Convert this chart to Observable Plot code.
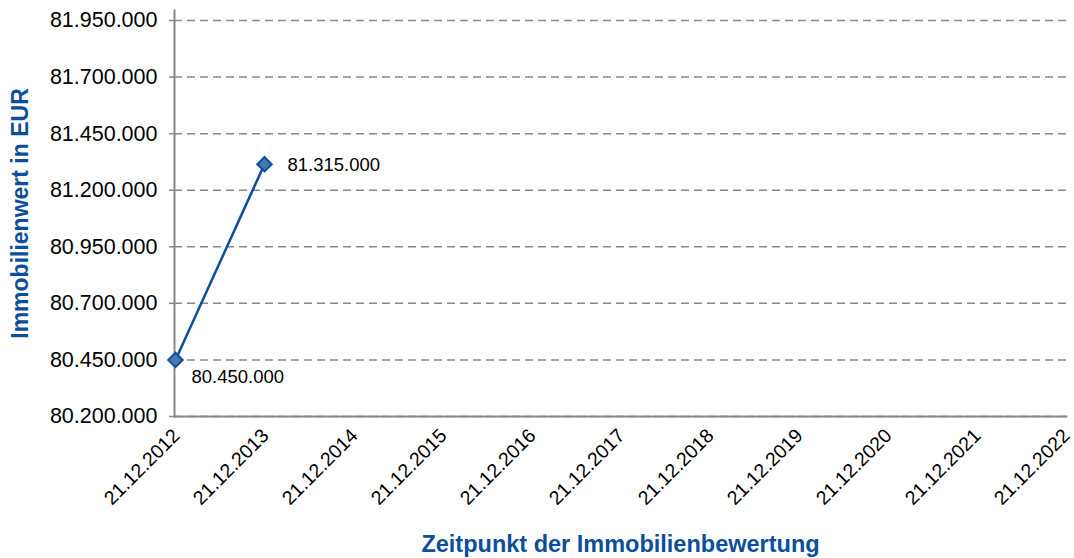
<!DOCTYPE html>
<html>
<head>
<meta charset="utf-8">
<script src="https://cdn.jsdelivr.net/npm/d3@7"></script>
<script src="https://cdn.jsdelivr.net/npm/@observablehq/plot@0.6"></script>
<style>
  html, body { margin: 0; padding: 0; background: #fff; }
  #chart svg { display: block; }
</style>
</head>
<body>
<div id="chart"></div>
<script>
const dates = ["21.12.2012","21.12.2013","21.12.2014","21.12.2015","21.12.2016","21.12.2017","21.12.2018","21.12.2019","21.12.2020","21.12.2021","21.12.2022"];
const valueDates = ["21.12.2012","21.12.2013"];
const values = [80450000, 81315000];
const yTicks = [80200000, 80450000, 80700000, 80950000, 81200000, 81450000, 81700000, 81950000];
const yTitle = "Immobilienwert in EUR";
const xTitle = "Zeitpunkt der Immobilienbewertung";

const data = valueDates.map((d, i) => ({date: d, value: values[i]}));
const de = d3.formatLocale({decimal: ",", thousands: ".", grouping: [3], currency: ["", " €"]});
const fmt = de.format(",d");
const blue = "#0b4f9c";

const chart = Plot.plot({
  width: 1074,
  height: 558,
  marginLeft: 174,
  marginRight: 8,
  marginTop: 20,
  marginBottom: 142,
  style: {fontFamily: "'Liberation Sans', Arial, sans-serif", fontSize: "20px", color: "#000", background: "#fff"},
  x: {type: "point", domain: dates, padding: 0},
  y: {domain: [80200000, 81950000]},
  marks: [
    Plot.gridY(yTicks, {stroke: "#888", strokeOpacity: 1, strokeWidth: 1.5, strokeDasharray: "8,5"}),
    Plot.frame({anchor: "left", stroke: "#888", strokeWidth: 2, insetTop: -10}),
    Plot.frame({anchor: "bottom", stroke: "#888", strokeWidth: 2}),
    Plot.axisY(yTicks, {tickFormat: fmt, tickSize: 5, tickPadding: 12, stroke: "#888", strokeWidth: 1.5, fontSize: 21.5, label: null}),
    Plot.axisX({tickRotate: -45, tickSize: 0, tickPadding: 16, fontSize: 19.5, label: null, dx: 1}),
    Plot.line(data, {x: "date", y: "value", stroke: blue, strokeWidth: 2.5}),
    Plot.dot(data, {x: "date", y: "value", symbol: "diamond2", r: 6.5, fill: "#4a78ab", stroke: blue, strokeWidth: 2}),
    Plot.text(data.slice(0, 1), {x: "date", y: "value", text: d => fmt(d.value), textAnchor: "start", dx: 16, dy: 17, fontSize: 18.5}),
    Plot.text(data.slice(1, 2), {x: "date", y: "value", text: d => fmt(d.value), textAnchor: "start", dx: 23, dy: 1, fontSize: 18.5}),
    Plot.text([yTitle], {frameAnchor: "left", textAnchor: "middle", rotate: -90, dx: -154, dy: -5, fontSize: 23, fontWeight: "bold", fill: blue}),
    Plot.text([xTitle], {frameAnchor: "bottom", dy: 135, fontSize: 23.5, fontWeight: "bold", fill: blue})
  ]
});
document.getElementById("chart").appendChild(chart);
</script>
</body>
</html>
